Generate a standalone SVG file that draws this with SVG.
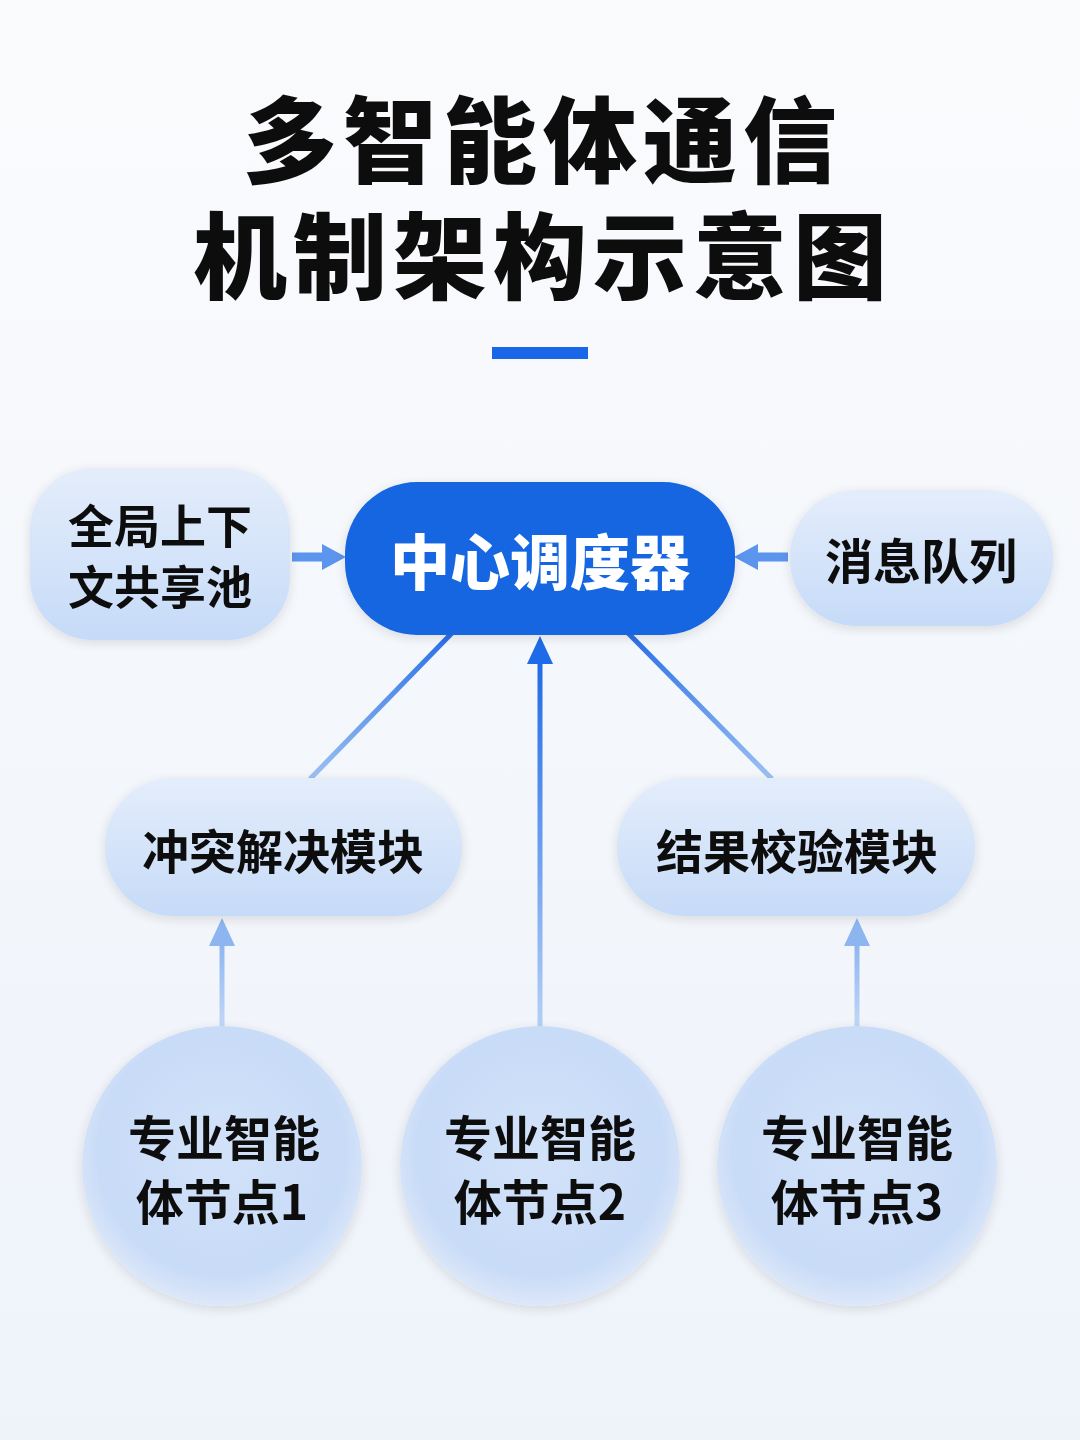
<svg xmlns="http://www.w3.org/2000/svg" width="1080" height="1440" viewBox="0 0 1080 1440">
<defs>
<linearGradient id="bg" x1="0" y1="0" x2="0" y2="1"><stop offset="0" stop-color="#fafbfd"/><stop offset="1" stop-color="#eef3fa"/></linearGradient>
<linearGradient id="soft" x1="0" y1="0" x2="0" y2="1"><stop offset="0" stop-color="#e4edfb"/><stop offset="1" stop-color="#c6dbf8"/></linearGradient>
<radialGradient id="circ" cx="0.5" cy="0.45" r="0.55"><stop offset="0" stop-color="#d2e2f9"/><stop offset="0.8" stop-color="#c8dbf7"/><stop offset="1" stop-color="#dde8f9"/></radialGradient>
<linearGradient id="vline" x1="0" y1="1" x2="0" y2="0"><stop offset="0" stop-color="#b5d0f6"/><stop offset="1" stop-color="#1f6ae6"/></linearGradient>
<linearGradient id="vline2" x1="0" y1="1" x2="0" y2="0"><stop offset="0" stop-color="#c2d8f7"/><stop offset="1" stop-color="#8db5f0"/></linearGradient>
<linearGradient id="dline" gradientUnits="userSpaceOnUse" x1="0" y1="635" x2="0" y2="778"><stop offset="0" stop-color="#2a6fe6"/><stop offset="1" stop-color="#9cc0f2"/></linearGradient>
<filter id="sh" x="-20%" y="-20%" width="140%" height="140%"><feGaussianBlur in="SourceAlpha" stdDeviation="6"/><feOffset dy="3"/><feComponentTransfer><feFuncA type="linear" slope="0.12"/></feComponentTransfer><feMerge><feMergeNode/><feMergeNode in="SourceGraphic"/></feMerge></filter>
</defs>
<style>
.title{font-family:"Noto Sans CJK SC","Noto Sans",sans-serif;font-weight:900;font-size:94px;letter-spacing:6px;fill:#0d0d0d;text-anchor:middle}
.lbl{font-family:"Noto Sans CJK SC","Noto Sans",sans-serif;font-weight:700;fill:#111;text-anchor:middle;dominant-baseline:central}
.soft{fill:url(#soft)}
</style>
<rect width="1080" height="1440" fill="url(#bg)"/>
<g id="title">
<text class="title"><tspan x="543" y="176">多智能体通信</tspan><tspan x="543" y="292">机制架构示意图</tspan></text>
<rect x="492" y="347" width="96" height="12" fill="#1a66e8"/>
</g>
<g id="connectors">
<line x1="292" y1="557" x2="324" y2="557" stroke="#5b95ee" stroke-width="9"/>
<polygon points="346,557 322,544 322,570" fill="#5b95ee"/>
<line x1="788" y1="557" x2="756" y2="557" stroke="#5b95ee" stroke-width="9"/>
<polygon points="734,557 758,544 758,570" fill="#5b95ee"/>
<line x1="452" y1="633" x2="310" y2="779" stroke="url(#dline)" stroke-width="5"/>
<line x1="628" y1="633" x2="772" y2="779" stroke="url(#dline)" stroke-width="5"/>
<rect x="537.5" y="660" width="5" height="368" fill="url(#vline)"/>
<polygon points="540,636 527,664 553,664" fill="#1f6ae6"/>
<rect x="219.5" y="942" width="5" height="86" fill="url(#vline2)"/>
<polygon points="222,918 209,946 235,946" fill="#8db5f0"/>
<rect x="854.5" y="942" width="5" height="86" fill="url(#vline2)"/>
<polygon points="857,918 844,946 870,946" fill="#8db5f0"/>
</g>
<g id="node-context" filter="url(#sh)">
<rect class="soft" x="30" y="468" width="260" height="172" rx="62"/>
<text class="lbl" x="160" y="523" font-size="46">全局上下</text>
<text class="lbl" x="160" y="584" font-size="46">文共享池</text>
</g>
<g id="node-scheduler" filter="url(#sh)">
<rect x="345" y="482" width="390" height="153" rx="72" fill="#1466e2"/>
<text class="lbl" x="540" y="558" font-size="60" style="fill:#fff;font-weight:900">中心调度器</text>
</g>
<g id="node-queue" filter="url(#sh)">
<rect class="soft" x="790" y="490" width="263" height="136" rx="66"/>
<text class="lbl" x="921" y="558" font-size="48">消息队列</text>
</g>
<g id="node-conflict" filter="url(#sh)">
<rect class="soft" x="105" y="778" width="357" height="138" rx="68"/>
<text class="lbl" x="283" y="848" font-size="47">冲突解决模块</text>
</g>
<g id="node-verify" filter="url(#sh)">
<rect class="soft" x="617" y="778" width="358" height="138" rx="68"/>
<text class="lbl" x="797" y="848" font-size="47">结果校验模块</text>
</g>
<g id="node-agent1" filter="url(#sh)">
<ellipse cx="222" cy="1166" rx="140" ry="140" fill="url(#circ)"/>
<text class="lbl" x="224" y="1135" font-size="48">专业智能</text>
<text class="lbl" x="222" y="1199" font-size="48">体节点1</text>
</g>
<g id="node-agent2" filter="url(#sh)">
<ellipse cx="540" cy="1166" rx="140" ry="140" fill="url(#circ)"/>
<text class="lbl" x="540" y="1135" font-size="48">专业智能</text>
<text class="lbl" x="540" y="1199" font-size="48">体节点2</text>
</g>
<g id="node-agent3" filter="url(#sh)">
<ellipse cx="857" cy="1166" rx="140" ry="140" fill="url(#circ)"/>
<text class="lbl" x="857" y="1135" font-size="48">专业智能</text>
<text class="lbl" x="857" y="1199" font-size="48">体节点3</text>
</g>
</svg>
